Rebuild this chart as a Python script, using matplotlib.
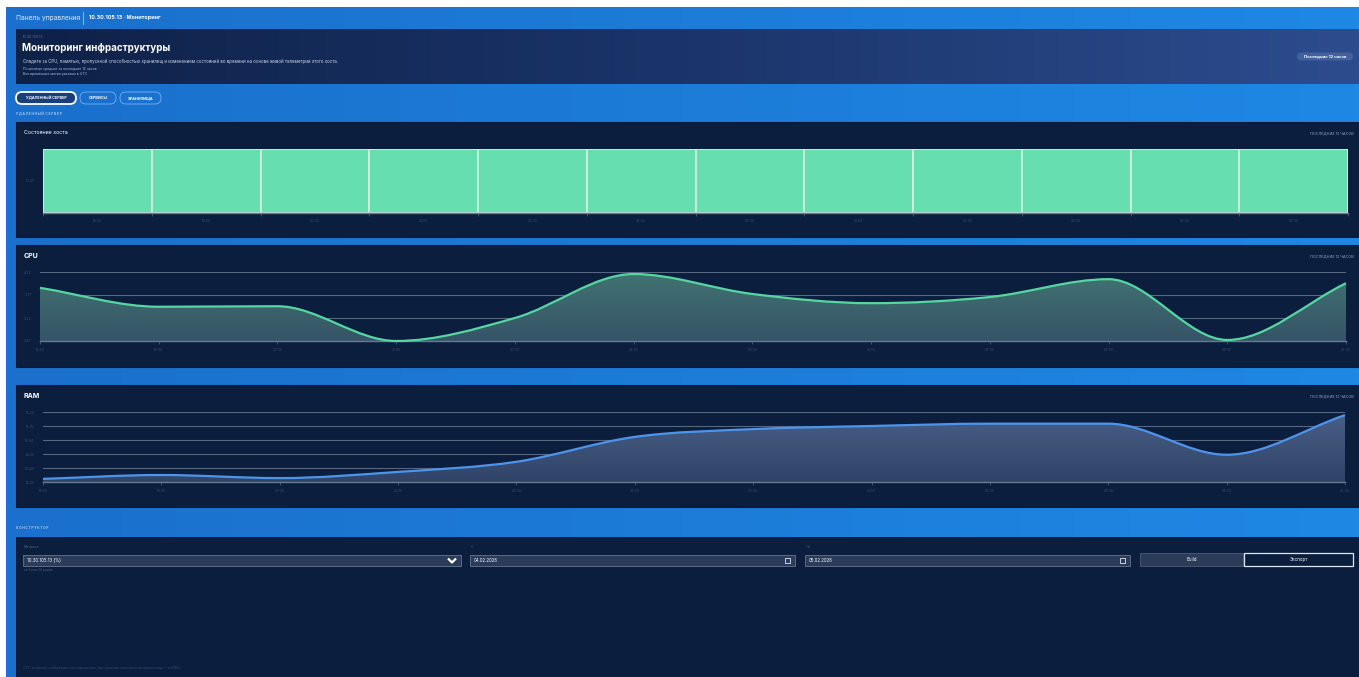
import numpy as np
import matplotlib
matplotlib.use("Agg")
import matplotlib.pyplot as plt
from matplotlib.patches import Rectangle, FancyBboxPatch, PathPatch
from matplotlib.path import Path
from matplotlib.colors import LinearSegmentedColormap

plt.rcParams['font.family'] = ['Inter', 'DejaVu Sans']

W, H = 1359, 677

# ---- data ----
hours = ["18:00", "19:00", "20:00", "21:00", "22:00", "23:00",
         "00:00", "01:00", "02:00", "03:00", "04:00", "05:00"]
host_state = [1] * 12
host_label = "10.37"

cpu_values = [3.91, 3.54, 3.55, 2.87, 3.32, 4.18, 3.79, 3.61, 3.73, 4.08, 2.89, 4.00]
cpu_ticks = [2.87, 3.32, 3.77, 4.22]

ram_values = [14.34, 14.39, 14.35, 14.43, 14.56, 14.88, 14.98, 15.02, 15.05, 15.05, 14.65, 15.16]
ram_ticks = [14.30, 14.48, 14.66, 14.84, 15.02, 15.20]

NAVY = '#0b1e3e'
DIM = '#3b4d6e'
GRID = '#56667e'


def frac(x, y, w, h):
    return [x / W, 1 - (y + h) / H, w / W, h / H]


def monotone_path(xs, ys, close_to=None):
    # same curve as chart.js "monotone" mode, built as bezier segments
    xs = np.asarray(xs, float)
    ys = np.asarray(ys, float)
    n = len(xs)
    dx = np.diff(xs)
    dk = np.diff(ys) / dx
    m = np.zeros(n)
    m[0], m[-1] = dk[0], dk[-1]
    for i in range(1, n - 1):
        if np.sign(dk[i - 1]) != np.sign(dk[i]) or dk[i - 1] == 0 or dk[i] == 0:
            m[i] = 0
        else:
            m[i] = (dk[i - 1] + dk[i]) / 2
    for i in range(n - 1):
        if dk[i] == 0:
            m[i] = m[i + 1] = 0
            continue
        a, b = m[i] / dk[i], m[i + 1] / dk[i]
        s = a * a + b * b
        if s > 9:
            t = 3 / np.sqrt(s)
            m[i], m[i + 1] = t * a * dk[i], t * b * dk[i]
    verts = [(xs[0], ys[0])]
    codes = [Path.MOVETO]
    for i in range(n - 1):
        h = dx[i] / 3
        verts += [(xs[i] + h, ys[i] + m[i] * h),
                  (xs[i + 1] - h, ys[i + 1] - m[i + 1] * h),
                  (xs[i + 1], ys[i + 1])]
        codes += [Path.CURVE4] * 3
    if close_to is not None:
        verts += [(xs[-1], close_to), (xs[0], close_to), (xs[0], ys[0])]
        codes += [Path.LINETO, Path.LINETO, Path.CLOSEPOLY]
    return Path(verts, codes)


fig = plt.figure(figsize=(W / 100, H / 100), dpi=100, facecolor='white')
bg = fig.add_axes([0, 0, 1, 1])
bg.set_xlim(0, W)
bg.set_ylim(H, 0)
bg.axis('off')

# page background
grad = np.linspace(0, 1, 256).reshape(1, -1)
page_cmap = LinearSegmentedColormap.from_list('page', ['#1a70cc', '#1e88e4'])
bg.imshow(grad, extent=[6, W, H, 7], cmap=page_cmap, aspect='auto', zorder=0)

# nav bar
bg.text(16, 18, "Панель управления", color='#dfe9f8', fontsize=4.8, va='center')
bg.plot([83, 83], [12, 24], color='#7fb0ea', lw=0.8)
bg.text(89, 18, "10.30.105.13 · Мониторинг", color='white', fontsize=3.9,
        fontweight='bold', va='center')

# header card
head_cmap = LinearSegmentedColormap.from_list('head', ['#0e2147', '#1b356b', '#2d4c8e'])
bg.imshow(grad, extent=[16, W, 84, 29], cmap=head_cmap, aspect='auto', zorder=1)
bg.text(23, 37, "10.30.105.13", color='#5d73a0', fontsize=2.6, va='center', zorder=2)
bg.text(22.5, 48, "Мониторинг инфраструктуры", color='white', fontsize=7.0,
        fontweight='bold', va='center', zorder=2)
bg.text(23, 61, "Следите за CPU, памятью, пропускной способностью хранилищ и изменением "
        "состояний во времени на основе живой телеметрии этого хоста.",
        color='#c9d6ee', fontsize=3.1, va='center', zorder=2)
bg.text(23, 69, "Почасовые средние за последние 12 часов", color='#aebcd8',
        fontsize=2.5, va='center', zorder=2)
bg.text(23, 74, "Все временные метки указаны в UTC", color='#aebcd8',
        fontsize=2.5, va='center', zorder=2)
bg.add_patch(FancyBboxPatch((1297, 52.5), 56, 8, boxstyle='round,pad=0,rounding_size=4',
                            fc='#42609c', ec='none', zorder=2))
bg.text(1325, 56.5, "Последние 12 часов", color='white', fontsize=3.0,
        fontweight='bold', ha='center', va='center', zorder=3)

# tabs
tabs = [("УДАЛЕННЫЙ СЕРВЕР", 16, 60, True), ("СЕРВИСЫ", 80, 36, False),
        ("ХРАНИЛИЩА", 120, 41, False)]
for label, x0, w, active in tabs:
    if active:
        bg.add_patch(FancyBboxPatch((x0, 92), w, 12, boxstyle='round,pad=0,rounding_size=6',
                                    fc='#1a3e7a', ec='white', lw=1.3, zorder=2))
    else:
        bg.add_patch(FancyBboxPatch((x0, 92), w, 12, boxstyle='round,pad=0,rounding_size=6',
                                    fc='none', ec='#6aa8ee', lw=0.7, zorder=2))
    bg.text(x0 + w / 2, 98, label, color='white', fontsize=2.7, fontweight='bold',
            ha='center', va='center', zorder=3)
bg.text(16, 114, "У Д А Л Е Н Н Ы Й  С Е Р В Е Р", color='#a9c9f2', fontsize=2.3,
        fontweight='bold', va='center')

# chart cards
cards = [(122, 237, "Состояние хоста"), (245, 367, "CPU"), (385, 507, "RAM")]
for top, bot, title in cards:
    bg.add_patch(Rectangle((16, top), W - 16, bot - top, fc=NAVY, ec='#0a1a36',
                           lw=0.8, zorder=1))
    big = title != "Состояние хоста"
    bg.text(24, top + 11, title, color='white', fontsize=5.0 if big else 3.8,
            fontweight='bold' if big else 'normal', va='center', zorder=2)
    bg.text(1354, top + 11, "ПОСЛЕДНИЕ 12 ЧАСОВ", color='#9aa8c2', fontsize=2.7,
            ha='right', va='center', zorder=2)

# constructor card
bg.text(16, 528, "К О Н С Т Р У К Т О Р", color='#a9c9f2', fontsize=2.3,
        fontweight='bold', va='center')
bg.add_patch(Rectangle((16, 537), W - 16, H - 537, fc=NAVY, ec='none', zorder=1))
fields = [("Метрика", 23, 438, "10.30.105.13 (%)"), ("С", 470, 325, "04.02.2026"),
          ("По", 805, 325, "05.02.2026")]
for lab, x0, w, val in fields:
    bg.text(x0 + 1, 547, lab, color='#4c5e80', fontsize=2.6, va='center', zorder=2)
    bg.add_patch(Rectangle((x0, 555), w, 11, fc='#2b3b5a', ec='#5b6b86', lw=0.7, zorder=2))
    bg.text(x0 + 4, 560.5, val, color='white', fontsize=3.1, va='center', zorder=3)
    if lab == "Метрика":
        bg.plot([x0 + w - 13, x0 + w - 9, x0 + w - 5], [558.5, 562.5, 558.5],
                color='white', lw=1.6, zorder=3, solid_capstyle='butt')
    else:
        bg.add_patch(Rectangle((x0 + w - 10, 558), 5, 5, fc='none', ec='#c8d0de',
                               lw=0.7, zorder=3))
bg.text(24, 569.5, "не более 10 рядов", color='#4c5e80', fontsize=2.3, va='center', zorder=2)
bg.add_patch(Rectangle((1140, 553), 103, 13, fc='#2b3b5a', ec='#46566f', lw=0.7, zorder=2))
bg.text(1191.5, 559.5, "Build", color='white', fontsize=3.2, ha='center', va='center', zorder=3)
bg.add_patch(Rectangle((1244, 553), 109, 13, fc=NAVY, ec='#dfe6f2', lw=0.9, zorder=2))
bg.text(1298.5, 559.5, "Экспорт", color='white', fontsize=3.2, ha='center', va='center',
        zorder=3)
bg.text(23, 668, "CPU и память отображаются в процентах, пропускная способность "
        "хранилища — в MB/s.", color='#34476a', fontsize=2.6, va='center', zorder=2)


def style_axis(ax):
    ax.set_facecolor('none')
    for s in ['top', 'right', 'left']:
        ax.spines[s].set_visible(False)
    ax.spines['bottom'].set_color('#6a7890')
    ax.spines['bottom'].set_linewidth(1.0)
    ax.tick_params(axis='both', colors='#4a5a78', labelcolor=DIM, labelsize=2.6,
                   length=2, width=0.6)
    ax.tick_params(axis='y', length=0, pad=6)


# host state bars
ax1 = fig.add_axes(frac(43, 149, 1305, 64))
ax1.bar(range(12), host_state, width=1.0, color='#67deb0', edgecolor='#cdeee0', linewidth=1.3)
ax1.set_xlim(-0.5, 11.5)
ax1.set_ylim(0, 1)
style_axis(ax1)
ax1.set_xticks(np.arange(-0.5, 12, 1))
ax1.set_xticklabels([])
ax1.set_xticks(range(12), minor=True)
ax1.set_xticklabels(hours, minor=True)
ax1.tick_params(axis='x', which='minor', length=0, pad=4, labelsize=2.6, labelcolor=DIM)
ax1.set_yticks([0.5])
ax1.set_yticklabels([host_label])


def line_chart(rect, values, ticks, line_col, fill_cols):
    ax = fig.add_axes(frac(*rect))
    x = np.arange(len(values))
    lo, hi = ticks[0], ticks[-1]
    style_axis(ax)
    ax.set_xlim(0, len(values) - 1)
    ax.set_ylim(lo, hi)
    ax.set_yticks(ticks)
    ax.set_yticklabels([f"{t:.2f}" for t in ticks])
    ax.set_xticks(x)
    ax.set_xticklabels(hours)
    ax.tick_params(axis='x', pad=3)
    ax.grid(axis='y', color=GRID, lw=0.8)
    ax.set_axisbelow(True)
    fill = PathPatch(monotone_path(x, values, close_to=lo), fc='none', ec='none')
    ax.add_patch(fill)
    cm = LinearSegmentedColormap.from_list('f', fill_cols)
    im = ax.imshow(np.linspace(0, 1, 100).reshape(-1, 1), cmap=cm, origin='lower',
                   extent=[0, len(values) - 1, lo, hi], aspect='auto', zorder=2)
    im.set_clip_path(fill)
    ax.add_patch(PathPatch(monotone_path(x, values), fc='none', ec=line_col, lw=1.6,
                           zorder=3, clip_on=False))
    return ax


line_chart((40, 272, 1306, 69), cpu_values, cpu_ticks, '#54d7a1', ['#365467', '#417372'])
line_chart((43, 412, 1302, 70), ram_values, ram_ticks, '#4d95ec', ['#2f4467', '#4a5f86'])

fig.savefig("out.png", dpi=100, facecolor=fig.get_facecolor())
